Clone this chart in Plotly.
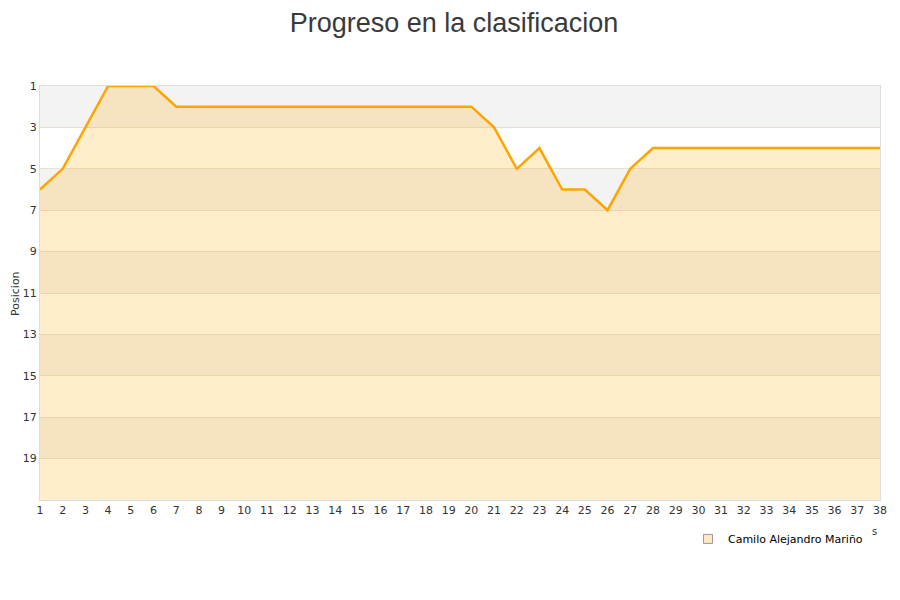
import plotly.graph_objects as go

jornadas = list(range(1, 39))
posiciones = [6, 5, 3, 1, 1, 1, 2, 2, 2, 2, 2, 2, 2, 2, 2, 2, 2, 2, 2, 2,
              3, 5, 4, 6, 6, 7, 5, 4, 4, 4, 4, 4, 4, 4, 4, 4, 4, 4]
jugador = "Camilo Alejandro Mariño"
y_ticks = list(range(1, 20, 2))
Y_MIN, Y_MAX = 1, 21

fig = go.Figure()

# baseline at the bottom of the axis for the area fill
fig.add_trace(go.Scatter(x=jornadas, y=[Y_MAX] * len(jornadas), mode="lines",
                         line=dict(width=0), showlegend=False, hoverinfo="skip"))
fig.add_trace(go.Scatter(x=jornadas, y=posiciones, mode="lines", name=jugador,
                         line=dict(color="#ffa500", width=2.5),
                         fill="tonexty", fillcolor="rgba(255,165,0,0.2)",
                         showlegend=False))
# legend swatch
fig.add_trace(go.Scatter(x=[None], y=[None], mode="markers", name=jugador,
                         marker=dict(symbol="square", size=9,
                                     color="rgba(253,232,197,1)",
                                     line=dict(color="#999999", width=1))))

shapes = []
for start in range(Y_MIN, Y_MAX, 4):
    shapes.append(dict(type="rect", xref="paper", x0=0, x1=1, yref="y",
                       y0=start, y1=start + 2, fillcolor="#f3f3f3",
                       line=dict(width=0), layer="between"))

fig.update_layout(
    width=892, height=592,
    paper_bgcolor="white", plot_bgcolor="white",
    margin=dict(l=32, r=20, t=78, b=100, autoexpand=False),
    title=dict(text="Progreso en la clasificacion", x=0.5, xanchor="center",
               y=0.976, yanchor="middle", automargin=False,
               font=dict(family="Liberation Sans, Arial", size=27, color="#3a3a3a")),
    font=dict(family="DejaVu Sans, Verdana", size=11, color="#333333"),
    shapes=shapes,
    legend=dict(x=0.9857, xanchor="right", y=-0.094, yanchor="middle",
                font=dict(family="DejaVu Sans, Verdana", size=11, color="#000000"),
                bgcolor="rgba(0,0,0,0)"),
    xaxis=dict(range=[1, 38], tickmode="array", tickvals=jornadas,
               showgrid=False, zeroline=False, ticks="", automargin=False,
               showline=True, mirror=True, linecolor="#dddddd", linewidth=1,
               tickfont=dict(size=11, color="#333333")),
    yaxis=dict(range=[Y_MAX, Y_MIN], tickmode="array", tickvals=y_ticks,
               showgrid=True, gridcolor="#e6e0d6", zeroline=False, ticks="",
               automargin=False,
               showline=True, mirror=True, linecolor="#dddddd", linewidth=1,
               tickfont=dict(size=11, color="#333333")),
    annotations=[
        dict(text="Posicion", xref="paper", yref="paper", x=-0.0298, y=0.5,
             xanchor="center", yanchor="middle", textangle=-90, showarrow=False,
             font=dict(size=11, color="#333333")),
        dict(text="s", xref="paper", yref="paper", x=0.994, y=-0.077,
             xanchor="center", yanchor="middle", showarrow=False,
             font=dict(size=10, color="#333333")),
    ],
)

fig.write_html("out.html")
